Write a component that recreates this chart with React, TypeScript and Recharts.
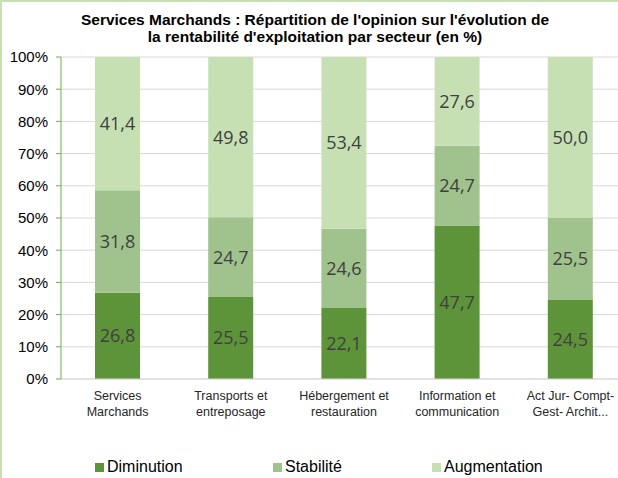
import React from "react";
import { BarChart, Bar, XAxis, YAxis, CartesianGrid, LabelList } from "recharts";

const categories = [
  "Services\nMarchands",
  "Transports et\nentreposage",
  "Hébergement et\nrestauration",
  "Information et\ncommunication",
  "Act Jur- Compt-\nGest- Archit...",
];
const diminution = [26.8, 25.5, 22.1, 47.7, 24.5];
const stabilite = [31.8, 24.7, 24.6, 24.7, 25.5];
const augmentation = [41.4, 49.8, 53.4, 27.6, 50.0];
const yTicks = [0, 0.1, 0.2, 0.3, 0.4, 0.5, 0.6, 0.7, 0.8, 0.9, 1];

const seriesNames = ["Diminution", "Stabilité", "Augmentation"];
const colors = ["#5E9439", "#A0C28C", "#C6E0B4"];

const data = categories.map((c, i) => ({
  name: c,
  dim: diminution[i],
  sta: stabilite[i],
  aug: augmentation[i],
}));

const fmt = (v: any) => Number(v).toFixed(1).replace(".", ",");

const CatTick = (props: any) => {
  const { x, payload } = props;
  const lines = String(payload.value).split("\n");
  return (
    <g>
      {lines.map((l: string, i: number) => (
        <text
          key={i}
          x={x}
          y={400 + i * 16}
          textAnchor="middle"
          fontFamily="'Liberation Sans', Arial, sans-serif"
          fontSize={12.5}
          fill="#262626"
        >
          {l}
        </text>
      ))}
    </g>
  );
};

const labelStyle = {
  fontFamily: "'Open Sans', sans-serif",
  fontSize: 18,
  fill: "#404040",
};

export default function App() {
  const keys = ["dim", "sta", "aug"];
  const legendX = [95, 273, 432];
  return (
    <div
      style={{
        position: "absolute",
        left: 0,
        top: 0,
        width: 618,
        height: 478,
        overflow: "hidden",
        background: "#fff",
      }}
    >
      <div
        style={{
          position: "absolute",
          left: 0,
          top: 0,
          width: 618,
          height: 2,
          background: "#C6E0B4",
        }}
      />
      <div
        style={{
          position: "absolute",
          left: 0,
          top: 0,
          width: 2,
          height: 478,
          background: "#C6E0B4",
        }}
      />
      {[
        "Services Marchands : Répartition de l'opinion sur l'évolution de",
        "la rentabilité d'exploitation par secteur (en %)",
      ].map((t, i) => (
        <div
          key={i}
          style={{
            position: "absolute",
            left: 0,
            width: 630,
            top: 11 + i * 17,
            textAlign: "center",
            fontFamily: "'Liberation Sans', Arial, sans-serif",
            fontWeight: "bold",
            fontSize: 15.5,
            lineHeight: "17px",
            color: "#000",
            whiteSpace: "nowrap",
          }}
        >
          {t}
        </div>
      ))}
      <div style={{ position: "absolute", left: 0, top: 0 }}>
        <BarChart
          width={627}
          height={478}
          data={data}
          stackOffset="expand"
          margin={{ top: 57, right: 0, bottom: 0, left: 0 }}
          barSize={45}
        >
          <CartesianGrid vertical={false} stroke="#D9D9D9" strokeWidth={1} />
          <XAxis
            dataKey="name"
            height={99}
            tickLine={false}
            axisLine={{ stroke: "#D9D9D9" }}
            tick={<CatTick />}
            interval={0}
          />
          <YAxis
            width={61}
            domain={[0, 1]}
            ticks={yTicks}
            tickFormatter={(v: number) => `${Math.round(v * 100)}%`}
            axisLine={{ stroke: "#70AD47" }}
            tickLine={{ stroke: "#70AD47" }}
            tickSize={5}
            tickMargin={8}
            tick={{
              fontFamily: "'Liberation Sans', Arial, sans-serif",
              fontSize: 15,
              fill: "#000",
            }}
          />
          {keys.map((k, i) => (
            <Bar
              key={k}
              dataKey={k}
              stackId="a"
              fill={colors[i]}
              isAnimationActive={false}
            >
              <LabelList
                dataKey={k}
                position="center"
                formatter={fmt}
                style={labelStyle}
              />
            </Bar>
          ))}
        </BarChart>
      </div>
      {seriesNames.map((n, i) => (
        <div
          key={n}
          style={{
            position: "absolute",
            left: legendX[i],
            top: 458,
            height: 18,
            display: "flex",
            alignItems: "center",
            fontFamily: "'Liberation Sans', Arial, sans-serif",
            fontSize: 16,
            color: "#000",
            whiteSpace: "nowrap",
          }}
        >
          <span
            style={{
              display: "inline-block",
              width: 9,
              height: 9,
              background: colors[i],
              marginRight: 3,
            }}
          />
          {n}
        </div>
      ))}
    </div>
  );
}
